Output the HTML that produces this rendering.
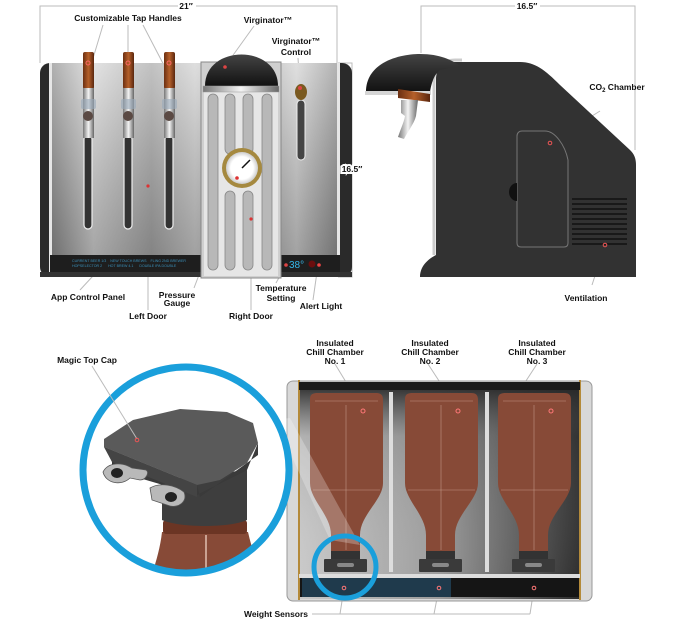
<!DOCTYPE html>
<html><head><meta charset="utf-8"><style>
html,body{margin:0;padding:0;background:#fff;width:680px;height:621px;overflow:hidden}
svg{display:block}
text{font-family:"Liberation Sans",sans-serif;font-weight:bold;font-size:8.5px;fill:#111}
</style></head><body>
<svg width="680" height="621" viewBox="0 0 680 621" xmlns="http://www.w3.org/2000/svg">
<defs>
<linearGradient id="steel" x1="0" x2="1" y1="0" y2="0">
<stop offset="0" stop-color="#8a8a8a"/><stop offset=".15" stop-color="#d6d6d6"/><stop offset=".35" stop-color="#a8a8a8"/><stop offset=".5" stop-color="#d0d0d0"/><stop offset=".7" stop-color="#9c9c9c"/><stop offset=".85" stop-color="#d2d2d2"/><stop offset="1" stop-color="#8e8e8e"/></linearGradient>
<linearGradient id="steelV" x1="0" x2="0" y1="0" y2="1"><stop offset="0" stop-color="#fff" stop-opacity=".3"/><stop offset="1" stop-color="#000" stop-opacity=".25"/></linearGradient>
<linearGradient id="wood" x1="0" x2="1"><stop offset="0" stop-color="#6b2f12"/><stop offset=".5" stop-color="#b5602a"/><stop offset="1" stop-color="#5a260e"/></linearGradient>
<linearGradient id="chrome" x1="0" x2="1"><stop offset="0" stop-color="#777"/><stop offset=".5" stop-color="#f4f4f4"/><stop offset="1" stop-color="#666"/></linearGradient>
<linearGradient id="dome" x1="0" x2="0" y1="0" y2="1"><stop offset="0" stop-color="#444"/><stop offset="1" stop-color="#111"/></linearGradient>
<linearGradient id="caseIn" x1="0" x2="1"><stop offset="0" stop-color="#c9c9c9"/><stop offset=".5" stop-color="#9a9a9a"/><stop offset="1" stop-color="#2a2a2a"/></linearGradient>
<linearGradient id="caseInV" x1="0" x2="0" y1="0" y2="1"><stop offset="0" stop-color="#222"/><stop offset=".25" stop-color="#555" stop-opacity=".2"/><stop offset="1" stop-color="#fff" stop-opacity="0"/></linearGradient>
<radialGradient id="gauge"><stop offset=".7" stop-color="#fff"/><stop offset="1" stop-color="#ccc"/></radialGradient>
</defs>

<!-- ===== FRONT VIEW ===== -->
<g stroke="#bbb" stroke-width="1" fill="none">
<path d="M40,63 V6 H178 M196,6 H337 V63"/>
<path d="M338,63 H352 V277 H338"/>
<path d="M103,25 L88,75 M128,25 L128,75 M143,25 L169,75"/>
<path d="M254,26 L226,65"/>
<path d="M298,58 L300,88"/>
<path d="M104,264 L80,290"/>
<path d="M148,186 L148,310"/>
<path d="M236,178 L194,288"/>
<path d="M251,215 L251,310"/>
<path d="M286,265 L276,283"/>
<path d="M318,265 L313,300"/>
</g>
<text x="186" y="9" text-anchor="middle">21″</text>
<!-- body -->
<rect x="40" y="63" width="312" height="214" rx="10" fill="#2a2a2a"/>
<rect x="50" y="63" width="290" height="214" fill="url(#steel)"/>
<rect x="50" y="63" width="290" height="214" fill="url(#steelV)"/>
<rect x="49" y="63" width="3" height="214" fill="#e6e6e6"/>
<rect x="337" y="63" width="3" height="214" fill="#e6e6e6"/>
<rect x="50" y="255" width="290" height="17" fill="#1e1e1e"/>
<rect x="40" y="272" width="312" height="5" fill="#333"/>
<text x="72" y="262" style="fill:#3a8fb8;font-weight:normal;font-size:3.6px">CURRENT BEER 1/3 &#160;&#160; NEW TOUCH BREWS &#160;&#160; FLING 2ND BREWER</text>
<text x="72" y="267" style="fill:#3a8fb8;font-weight:normal;font-size:3.6px">HOPSELECTOR 2 &#160;&#160;&#160;&#160; HOT BREW 4.1 &#160;&#160;&#160;&#160; DOUBLE IPA DOUBLE</text>
<!-- taps -->
<g id="tap">
<rect x="84" y="135" width="8" height="94" rx="4" fill="#333" stroke="#eee" stroke-width="1.2"/>
<rect x="83" y="52" width="11" height="37" rx="2" fill="url(#wood)"/>
<rect x="83" y="88" width="11" height="50" fill="url(#chrome)"/>
<rect x="81" y="99" width="15" height="10" rx="2" fill="#9ab" opacity=".6"/>
<circle cx="88" cy="116" r="5" fill="#5b4a44"/>
<circle cx="88" cy="63" r="2" fill="none" stroke="#f66" stroke-width="1"/>
</g>
<use href="#tap" x="40"/>
<use href="#tap" x="81"/>
<circle cx="148" cy="186" r="1.6" fill="#d33"/>
<!-- right door -->
<rect x="201" y="62" width="80" height="216" fill="#cfcfcf" stroke="#888" stroke-width="1"/>
<rect x="204" y="88" width="74" height="188" fill="#e6e6e6"/>
<g fill="#b8b8b8" stroke="#888" stroke-width=".8">
<rect x="208" y="94" width="10" height="176" rx="5"/>
<rect x="225" y="94" width="10" height="60" rx="5"/>
<rect x="243" y="94" width="10" height="60" rx="5"/>
<rect x="262" y="94" width="10" height="176" rx="5"/>
<rect x="225" y="191" width="10" height="79" rx="5"/>
<rect x="243" y="191" width="10" height="79" rx="5"/>
</g>
<path d="M205,86 C205,44 278,44 278,86 Z" fill="url(#dome)"/>
<rect x="203" y="86" width="76" height="6" fill="url(#chrome)" stroke="#999" stroke-width=".5"/>
<circle cx="225" cy="67" r="1.8" fill="#d44"/>
<circle cx="242" cy="168" r="20" fill="#a5893f"/>
<circle cx="242" cy="168" r="16" fill="url(#gauge)"/>
<line x1="242" y1="168" x2="250" y2="160" stroke="#111" stroke-width="1.5"/>
<circle cx="237" cy="178" r="1.8" fill="#d33"/>
<circle cx="251" cy="219" r="1.6" fill="#d33"/>
<!-- virginator control -->
<rect x="297" y="100" width="8" height="60" rx="4" fill="#444" stroke="#eee"/>
<ellipse cx="301" cy="92" rx="6" ry="8" fill="#7a5a20"/>
<circle cx="300" cy="88" r="2" fill="#d44"/>
<text x="289" y="268" style="fill:#35b6e8;font-size:10px;font-weight:normal">38°</text>
<circle cx="286" cy="265" r="1.8" fill="#d44"/>
<circle cx="312" cy="264" r="3.5" fill="#6a0e0e"/><circle cx="319" cy="265" r="1.8" fill="#e44"/>
<!-- labels front -->
<text x="128" y="21" text-anchor="middle">Customizable Tap Handles</text>
<text x="268" y="23" text-anchor="middle">Virginator™</text>
<text x="296" y="44" text-anchor="middle">Virginator™</text>
<text x="296" y="55" text-anchor="middle">Control</text>
<text x="352" y="172" text-anchor="middle" style="fill:#fff;stroke:#fff;stroke-width:4">16.5″</text>
<text x="352" y="172" text-anchor="middle">16.5″</text>
<text x="88" y="300" text-anchor="middle">App Control Panel</text>
<text x="177" y="298" text-anchor="middle">Pressure</text>
<text x="177" y="306" text-anchor="middle">Gauge</text>
<text x="148" y="319" text-anchor="middle">Left Door</text>
<text x="281" y="291" text-anchor="middle">Temperature</text>
<text x="281" y="301" text-anchor="middle">Setting</text>
<text x="321" y="309" text-anchor="middle">Alert Light</text>
<text x="251" y="319" text-anchor="middle">Right Door</text>

<!-- ===== SIDE VIEW ===== -->
<g stroke="#bbb" stroke-width="1" fill="none">
<path d="M421,53 V6 H515 M540,6 H635 V150"/>
<path d="M549,143 L600,111"/>
<path d="M605,245 L592,285"/>
</g>
<text x="527" y="9" text-anchor="middle">16.5″</text>
<path d="M440,277 L420,277 C420,265 430,258 436,255 L436,80 C436,66 444,62 456,62 L520,62 C535,62 545,70 560,85 L630,150 C634,154 636,158 636,165 L636,277 Z" fill="#323232"/>
<path d="M434,255 V80 C434,66 442,60 456,60 L462,60" fill="none" stroke="#ccc" stroke-width="3"/>
<path d="M366,92 C366,62 400,54 420,54 C440,54 452,60 460,66 L440,70 C435,74 432,80 430,92 Z" fill="url(#dome)"/>
<rect x="365" y="91" width="66" height="4" fill="#d5d5d5"/>
<path d="M398,89 L430,94 L430,102 L398,98 Z" fill="url(#wood)"/>
<path d="M401,100 H418 L416,116 C414,124 408,131 404,139 L398,137 C401,128 404,122 405,116 L401,113 Z" fill="url(#chrome)"/>
<path d="M517,136 C517,133 519,131 522,131 L545,131 C555,131 565,145 568,160 L568,243 C568,246 566,247 564,247 L521,247 C519,247 517,246 517,243 Z" fill="none" stroke="#777" stroke-width="1"/>
<circle cx="550" cy="143" r="1.8" fill="none" stroke="#e55" stroke-width="1"/>
<path d="M517,183 A8,9 0 0 0 517,201 Z" fill="#111"/>
<g stroke="#111" stroke-width="1.5">
<line x1="572" y1="199" x2="627" y2="199"/><line x1="572" y1="204" x2="627" y2="204"/><line x1="572" y1="209" x2="627" y2="209"/><line x1="572" y1="214" x2="627" y2="214"/><line x1="572" y1="219" x2="627" y2="219"/><line x1="572" y1="224" x2="627" y2="224"/><line x1="572" y1="229" x2="627" y2="229"/><line x1="572" y1="234" x2="627" y2="234"/><line x1="572" y1="239" x2="627" y2="239"/><line x1="572" y1="244" x2="627" y2="244"/>
</g>
<circle cx="605" cy="245" r="1.8" fill="none" stroke="#e55" stroke-width="1"/>
<text x="617" y="90" text-anchor="middle">CO<tspan style="font-size:6px" dy="2">2</tspan><tspan dy="-2"> Chamber</tspan></text>
<text x="586" y="301" text-anchor="middle">Ventilation</text>

<!-- ===== CHILL CASE ===== -->
<g stroke="#bbb" stroke-width="1" fill="none">
<path d="M335,364 L363,410 M428,364 L458,410 M537,364 L507,410"/>
<path d="M312,614 H530 M340,614 L344,588 M434,614 L439,588 M530,614 L534,588"/>
</g>
<rect x="287" y="381" width="305" height="220" rx="6" fill="#d8d8d8" stroke="#999"/>
<rect x="299" y="382" width="281" height="217" fill="url(#caseIn)"/>
<rect x="299" y="382" width="281" height="217" fill="url(#caseInV)"/>
<rect x="298" y="380" width="2" height="220" fill="#b48a3a"/>
<rect x="579" y="380" width="2" height="220" fill="#b48a3a"/>
<rect x="299" y="382" width="281" height="8" fill="#1a1a1a"/>
<rect x="389" y="392" width="4" height="180" fill="#ddd"/>
<rect x="485" y="392" width="4" height="180" fill="#ddd"/>
<g id="bottle">
<path d="M310,399 C310,394 313,393 318,393 L376,393 C381,393 383,395 383,400 L383,483 C383,500 360,515 360,535 L360,552 L331,552 L331,535 C331,515 310,500 310,483 Z" fill="#874a37"/>
<g stroke="#e8c8b8" stroke-width=".6" opacity=".6"><line x1="315" y1="401" x2="378" y2="401"/><line x1="313" y1="490" x2="380" y2="490"/><line x1="346" y1="405" x2="346" y2="550"/></g>
<rect x="331" y="551" width="29" height="9" fill="#333"/>
<rect x="324" y="559" width="43" height="13" rx="1" fill="#3a3a3a"/>
<rect x="337" y="563" width="17" height="4" rx="2" fill="#888"/>
<circle cx="363" cy="411" r="2" fill="none" stroke="#f77" stroke-width="1"/>
</g>
<use href="#bottle" x="95"/>
<use href="#bottle" x="188" />
<rect x="299" y="574" width="281" height="4" fill="#ddd"/>
<rect x="300" y="578" width="279" height="19" fill="#151515"/>
<rect x="302" y="578" width="149" height="19" fill="#1f3a4c"/>
<circle cx="344" cy="588" r="1.8" fill="none" stroke="#f77" stroke-width="1"/>
<circle cx="439" cy="588" r="1.8" fill="none" stroke="#f77" stroke-width="1"/>
<circle cx="534" cy="588" r="1.8" fill="none" stroke="#f77" stroke-width="1"/>
<text x="335" y="346" text-anchor="middle">Insulated</text>
<text x="335" y="355" text-anchor="middle">Chill Chamber</text>
<text x="335" y="364" text-anchor="middle">No. 1</text>
<text x="430" y="346" text-anchor="middle">Insulated</text>
<text x="430" y="355" text-anchor="middle">Chill Chamber</text>
<text x="430" y="364" text-anchor="middle">No. 2</text>
<text x="537" y="346" text-anchor="middle">Insulated</text>
<text x="537" y="355" text-anchor="middle">Chill Chamber</text>
<text x="537" y="364" text-anchor="middle">No. 3</text>
<text x="276" y="617" text-anchor="middle">Weight Sensors</text>

<!-- magnifier beam -->
<path d="M275,420 L330,540 L360,545 L290,418 Z" fill="#fff" opacity=".25"/>
<!-- small circle -->
<circle cx="345" cy="567" r="31" fill="none" stroke="#1a9fdb" stroke-width="5"/>

<!-- big magnifier -->
<circle cx="186" cy="470" r="103" fill="#fff"/>
<clipPath id="mc"><circle cx="186" cy="470" r="103"/></clipPath>
<g clip-path="url(#mc)">
<path d="M162,532 L248,532 C252,550 258,565 262,580 L150,580 C155,565 160,550 162,532 Z" fill="#874a37"/>
<line x1="206" y1="535" x2="206" y2="580" stroke="#e0c0b0" stroke-width="1.5"/>
<rect x="163" y="520" width="84" height="14" rx="3" fill="#6b3524"/>
<path d="M162,480 L247,470 L247,520 C230,528 180,528 162,520 Z" fill="#3e3e3e"/>
<path d="M104,447 L112,460 L112,470 L197,495 L247,470 L258,443 L258,455 L200,497 L197,485 Z" fill="#3a3a3a"/>
<path d="M104,447 L104,439 L133,420 L180,409 L227,412 L253,423 L258,443 L247,463 L220,480 L197,485 Z" fill="#5a5a5a"/>
<path d="M104,447 L197,485 L197,497 L112,462 Z" fill="#444"/>
<g fill="#b9b9b9" stroke="#555" stroke-width=".8">
<path d="M103,472 C108,462 122,462 132,468 L146,470 C150,472 146,480 140,480 L130,478 C122,486 106,484 103,472 Z"/>
<path d="M150,488 C160,482 175,485 184,492 C188,502 178,508 170,506 L152,500 Z"/>
</g>
<ellipse cx="117" cy="473" rx="6" ry="5" fill="#222"/>
<ellipse cx="171" cy="497" rx="6" ry="5" fill="#222"/>
</g>
<circle cx="186" cy="470" r="103" fill="none" stroke="#1a9fdb" stroke-width="7"/>
<line x1="92" y1="366" x2="137" y2="439" stroke="#bbb"/>
<circle cx="137" cy="440" r="1.8" fill="none" stroke="#e55" stroke-width="1"/>
<text x="87" y="363" text-anchor="middle">Magic Top Cap</text>
</svg>
</body></html>
